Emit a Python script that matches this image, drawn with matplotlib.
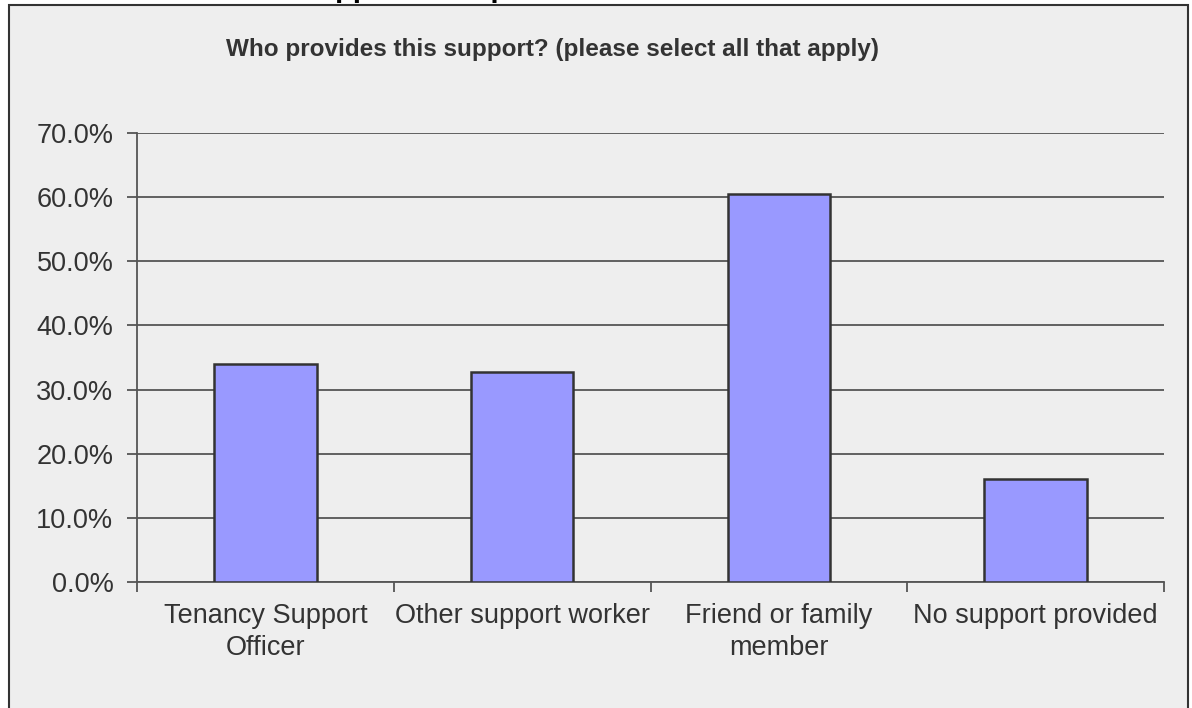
import numpy as np
import matplotlib.pyplot as plt
from matplotlib.patches import Rectangle
from matplotlib.ticker import PercentFormatter

# survey answers: share of respondents per support source
categories = ["Tenancy Support\nOfficer", "Other support worker",
              "Friend or family\nmember", "No support provided"]
shares = [34.0, 32.7, 60.5, 16.0]
y_ticks = [0, 10, 20, 30, 40, 50, 60, 70]

title = "Who provides this support? (please select all that apply)"

plt.rcParams['font.family'] = ['Liberation Sans', 'DejaVu Sans']
text_col = "#333333"
line_col = "#555555"

fig = plt.figure(figsize=(11.92, 7.08), dpi=100)
fig.patch.set_facecolor("white")

# chart area frame
frame = Rectangle((9 / 1192, -0.05), 1179 / 1192, 1.05 - 5 / 708,
                  transform=fig.transFigure, facecolor="#eeeeee",
                  edgecolor="#333333", linewidth=1.5, zorder=-5)
fig.patches.append(frame)

# heading of the page above, only its lower part fits on the canvas
fig.text(298 / 1192, 1 + 3 / 708, "Support from partners", fontsize=21,
         fontweight="bold", color="black", va="baseline", ha="left",
         zorder=-10)

ax = fig.add_axes([137 / 1192, 1 - 582 / 708, 1027 / 1192, 449 / 708])
ax.set_facecolor("none")
ax.set_zorder(2)

x = np.arange(len(categories))
ax.bar(x, shares, width=0.4, color="#9999ff", edgecolor="#333333",
       linewidth=1.8, zorder=3)

ax.set_xlim(-0.5, len(categories) - 0.5)
ax.set_ylim(0, 70)
ax.set_yticks(y_ticks)
ax.yaxis.set_major_formatter(PercentFormatter(decimals=1))
ax.yaxis.grid(True, color=line_col, linewidth=1.3, zorder=1)

ax.set_xticks(x)
ax.set_xticklabels(categories, linespacing=1.3)
ax.set_xticks(np.arange(-0.5, len(categories)), minor=True)
ax.tick_params(axis="x", which="major", length=0, pad=15,
               labelsize=19.5, labelcolor=text_col)
ax.tick_params(axis="x", which="minor", length=7, width=1.3, color=line_col)
ax.tick_params(axis="y", length=7, width=1.3, color=line_col, pad=10,
               labelsize=19.5, labelcolor=text_col)

for side in ["top", "right"]:
    ax.spines[side].set_visible(False)
for side in ["left", "bottom"]:
    ax.spines[side].set_color(line_col)
    ax.spines[side].set_linewidth(1.3)

fig.text(553 / 1192, 1 - 56 / 708, title, fontsize=17.5, fontweight="bold",
         color=text_col, ha="center", va="baseline", zorder=5)

fig.savefig("out.png", dpi=100)
